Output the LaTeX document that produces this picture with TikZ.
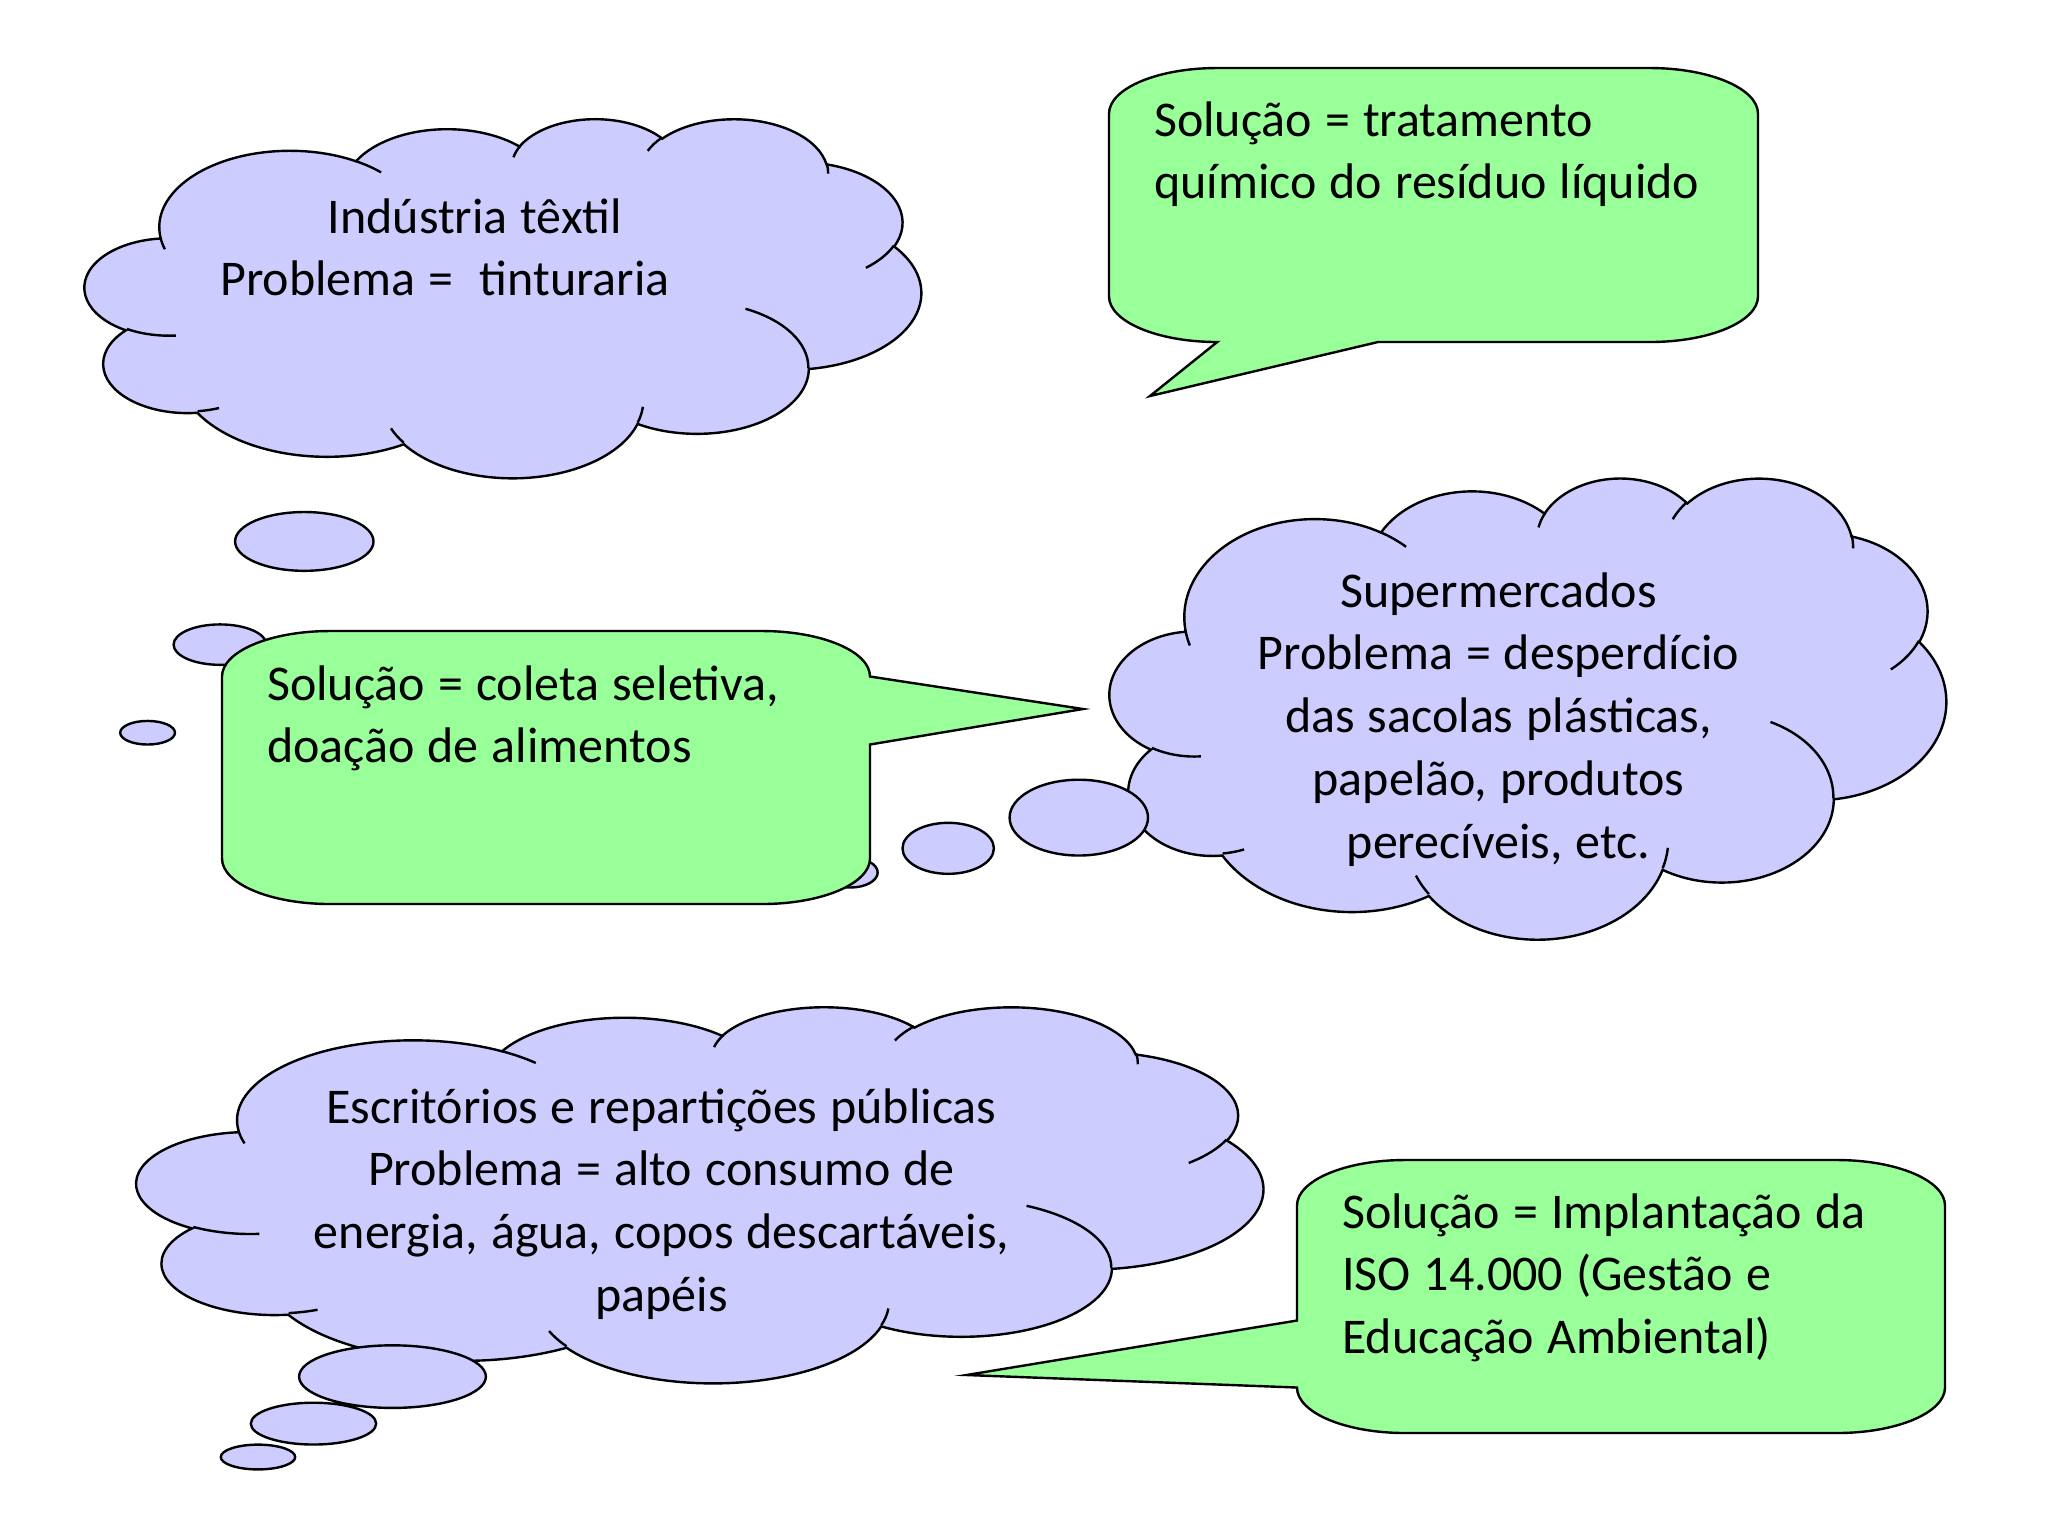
\documentclass[tikz,border=0pt]{standalone}
\usepackage{fontspec}
\setmainfont{Carlito}
\definecolor{cloudblue}{RGB}{204,204,255}
\definecolor{boxgreen}{RGB}{153,255,153}
\newcommand\puff[4]{arc[x radius=#1, y radius=#2,
    start angle={atan2(#1*sin(#3),#2*cos(#3))},
    delta angle={mod(atan2(#1*sin(#3+#4),#2*cos(#3+#4))-atan2(#1*sin(#3),#2*cos(#3))+720,360)}]}
\newcommand\boxcorner[3]{arc[start angle=#1, delta angle=90, x radius=#2, y radius=#3]}
\newcommand\thinkcloud[4]{%
  \begin{scope}[shift={(#1,#2)}, xscale=#3/432, yscale=#4/432]
    \filldraw[puffy] (39,143.7) \puff{67.53}{91.90}{-190.4875}{123.7805}
      \puff{53.33}{72.67}{-144.1024}{89.9452}
      \puff{43.65}{59.45}{-145.8079}{99.7230}
      \puff{48.57}{65.95}{-130.9861}{117.2417}
      \puff{53.33}{72.73}{-78.7089}{109.0269}
      \puff{67.75}{92.20}{-46.2673}{130.2690}
      \puff{57.85}{78.67}{0.6250}{114.0333}
      \puff{67.52}{92.15}{22.4516}{115.1726}
      \puff{77.20}{105.43}{66.2426}{75.7110}
      \puff{43.60}{59.18}{-274.9421}{146.7356}
      \puff{43.45}{59.45}{-246.8285}{152.5189} -- cycle;
    \draw (46.93,261.77) \puff{43.45}{59.45}{86.742}{26.4295}
      (69.28,348.99) \puff{43.60}{59.18}{73.6105}{11.4475}
      (164.78,390.90) \puff{67.52}{92.15}{137.624}{14.0811}
      (288.27,347.51) \puff{67.52}{92.15}{6.4533}{15.9984}
      (341.29,229.54) \puff{57.85}{78.67}{-70.2924}{70.9174}
      (417.98,153.54) \puff{53.33}{72.73}{30.318}{27.7515}
      (383.24,54.26) \puff{48.57}{65.95}{-13.7443}{14.8589}
      (290.78,39.52) \puff{48.57}{65.95}{-149.1815}{18.1954}
      (221.41,47.20) \puff{43.65}{59.45}{-163.4943}{17.6864}
      (140.00,51.92) \puff{67.53}{91.90}{-66.707}{12.3194}
      (41.27,157.89) \puff{67.53}{91.90}{157.6544}{11.8582};
  \end{scope}}

\begin{document}
\begin{tikzpicture}[x=0.25pt, y=-0.25pt, line width=0.6pt,
                    puffy/.style={fill=cloudblue, draw=black},
                    solbox/.style={fill=boxgreen, draw=black, line join=miter},
                    every node/.style={font=\fontsize{12.5}{15.7}\selectfont, inner sep=0pt,
                                       execute at begin node={\spaceskip=0.26em\relax}},
                    ctext/.style={text width=200pt, align=flush center, anchor=base},
                    stext/.style={text width=160pt, align=flush left, anchor=base west}]
    \fill[white] (0,0) rectangle (2048,1536);
    \path[use as bounding box] (0,0) rectangle (2048,1536);

    \thinkcloud{85}{118}{836}{359}
    \filldraw[puffy] (304.3,541.4) ellipse[x radius=69.2, y radius=29.4]
                     (220,644.6) ellipse[x radius=46.4, y radius=20.2]
                     (147.6,732.7) ellipse[x radius=27.4, y radius=11.8];

    \thinkcloud{1110}{477}{836}{461}
    \filldraw[puffy] (1078.8,817.6) ellipse[x radius=69.2, y radius=37.9]
                     (948.2,848.3) ellipse[x radius=45.7, y radius=25.5]
                     (850.3,872.5) ellipse[x radius=27.4, y radius=15];

    \thinkcloud{137}{1006}{1126}{376}
    \filldraw[puffy] (392.5,1376.6) ellipse[x radius=93.4, y radius=31.3]
                     (313.5,1423.6) ellipse[x radius=62.7, y radius=20.9]
                     (258,1457) ellipse[x radius=37.2, y radius=12.4];

    \filldraw[solbox] (1109,113.7) \boxcorner{180}{108.2}{45.7} -- (1649.8,68)
        \boxcorner{270}{108.2}{45.7} -- (1758,296.3) \boxcorner{0}{108.2}{45.7}
        -- (1378,342) -- (1150,396) -- (1217.2,342) \boxcorner{90}{108.2}{45.7} -- cycle;
    \filldraw[solbox] (222,676.5) \boxcorner{180}{108}{45.5} -- (762,631)
        \boxcorner{270}{108}{45.5} -- (1083,709) -- (870,744.5) -- (870,858.5)
        \boxcorner{0}{108}{45.5} -- (330,904) \boxcorner{90}{108}{45.5} -- cycle;
    \filldraw[solbox] (1297,1205.5) \boxcorner{180}{108}{45.5} -- (1837,1160)
        \boxcorner{270}{108}{45.5} -- (1945,1387.5) \boxcorner{0}{108}{45.5}
        -- (1405,1433) \boxcorner{90}{108}{45.5} -- (966.5,1375) -- (1297,1320.5) -- cycle;

    \node[ctext] (textil) at (445,233) {\hspace*{15pt}Indústria têxtil\\Problema =~~tinturaria};
    \node[ctext] (super) at (1498.5,607) {Supermercados\\Problema = desperdício\\das sacolas plásticas,\\papelão, produtos\\perecíveis, etc.};
    \node[ctext] (escrit) at (661.5,1123) {Escritórios e repartições públicas\\Problema = alto consumo de\\energia, água, copos descartáveis,\\papéis};
    \node[stext] (soltextil) at (1153,136) {Solução = tratamento\\químico do resíduo líquido};
    \node[stext] (solsuper) at (266,700) {Solução = coleta seletiva,\\doação de alimentos};
    \node[stext] (solescrit) at (1341,1228) {Solução = Implantação da\\ISO 14.000 (Gestão e\\Educação Ambiental)};
\end{tikzpicture}
\end{document}
